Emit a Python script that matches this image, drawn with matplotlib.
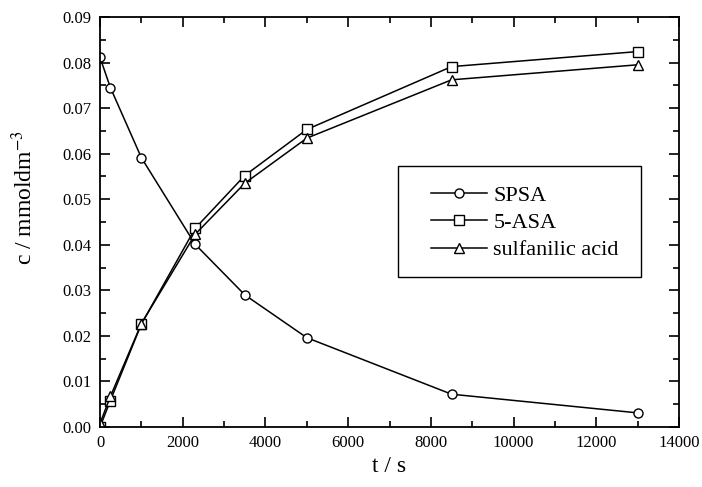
import matplotlib
matplotlib.use("Agg")
import matplotlib.pyplot as plt
from matplotlib.patches import Rectangle
from matplotlib.ticker import MultipleLocator

# time points (s)
t = [0, 250, 1000, 2300, 3500, 5000, 8500, 13000]

# concentrations (mmol dm-3)
spsa = [0.0811, 0.0745, 0.0591, 0.0401, 0.0290, 0.0196, 0.0072, 0.0031]
asa5 = [0.0000, 0.0058, 0.0226, 0.0436, 0.0552, 0.0653, 0.0791, 0.0824]
sulf = [0.0008, 0.0067, 0.0227, 0.0423, 0.0535, 0.0634, 0.0762, 0.0795]

plt.rcParams['font.family'] = ['Liberation Serif', 'DejaVu Serif']
plt.rcParams['mathtext.fontset'] = 'stix'

fig = plt.figure(figsize=(7.02, 4.87), dpi=100)
ax = fig.add_axes([0.1425, 0.1232, 0.8248, 0.842])

style = dict(color='black', lw=1.1, markersize=6.5, markerfacecolor='white',
             markeredgecolor='black', markeredgewidth=1.0)
ax.plot(t, spsa, marker='o', label='SPSA', **style)
ax.plot(t, asa5, marker='s', label='5-ASA', **style)
ax.plot(t, sulf, marker='^', label='sulfanilic acid', **style)

ax.set_xlim(0, 14000)
ax.set_ylim(0, 0.09)
ax.xaxis.set_major_locator(MultipleLocator(2000))
ax.xaxis.set_minor_locator(MultipleLocator(1000))
ax.yaxis.set_major_locator(MultipleLocator(0.01))
ax.yaxis.set_minor_locator(MultipleLocator(0.005))
ax.yaxis.set_major_formatter(plt.FormatStrFormatter('%.2f'))
ax.tick_params(which='both', direction='in', top=True, right=True, labelsize=12, width=1.2)
ax.tick_params(which='major', length=7, pad=6)
ax.tick_params(which='minor', length=4)
for s in ax.spines.values():
    s.set_linewidth(1.3)

ax.set_xlabel('t / s', fontsize=17)
ax.set_ylabel('c / mmoldm$^{-3}$', fontsize=17)
ax.xaxis.set_label_coords(0.5, -0.07)
ax.yaxis.set_label_coords(-0.109, 0.56)

# legend without its own frame, box drawn separately with wider side padding
leg = ax.legend(loc='center', bbox_to_anchor=(0.734, 0.498), fontsize=16,
                frameon=False, numpoints=1, handlelength=2.5,
                handletextpad=0.3, borderpad=0, labelspacing=0.3)
ax.add_patch(Rectangle((0.515, 0.366), 0.419, 0.271, transform=ax.transAxes,
                       fill=False, edgecolor='black', lw=1.0, zorder=5))

fig.savefig('out.png', dpi=100)
